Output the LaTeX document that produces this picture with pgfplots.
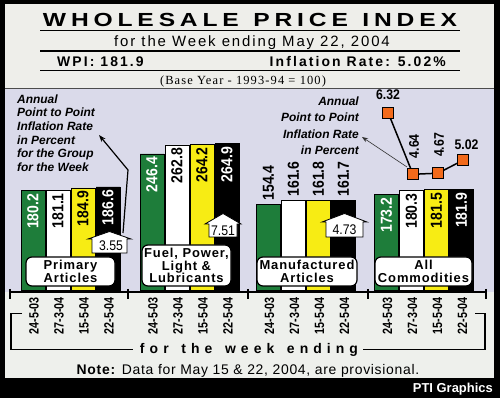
\documentclass[border=0pt]{standalone}
\usepackage{pgfplots}
\pgfplotsset{compat=1.18}
\usetikzlibrary{arrows.meta}
\usepackage{fontspec}
\setmainfont{Liberation Sans}
\newfontfamily\titlefont{Liberation Sans}[FakeStretch=1.3]
\newfontfamily\condfont{Liberation Sans}[FakeStretch=0.88]
\newfontfamily\datefont{Liberation Sans}[FakeStretch=0.8]
\newfontfamily\spacedfont{Liberation Sans}[LetterSpace=15]
\newfontfamily\subfont{Liberation Sans}[LetterSpace=12.7]
\newfontfamily\serifspaced{Liberation Serif}[LetterSpace=9]
\newfontfamily\boxfont{Liberation Sans}[LetterSpace=7]
\newfontfamily\notefont{Liberation Sans}[LetterSpace=5]
\definecolor{wgreen}{HTML}{1E7D3A}
\definecolor{wyellow}{HTML}{F7EC14}
\definecolor{lav}{HTML}{DADAEA}
\definecolor{titlebg}{HTML}{EEEEEA}
\definecolor{lowbg}{HTML}{EEF0EC}
\definecolor{sqorange}{HTML}{F26A1B}
\newcommand{\inlab}[3]{\node[rotate=90,anchor=east,inner sep=0pt,font={\condfont\bfseries\fontsize{16}{16}\selectfont},text=#3] at ([yshift=-3bp]axis cs:#1,#2) {#2};}
\newcommand{\outlab}[2]{\node[rotate=90,anchor=west,inner sep=0pt,font={\condfont\bfseries\fontsize{16}{16}\selectfont}] at ([yshift=4bp]axis cs:#1,#2) {#2};}
\newcommand{\house}[5]{\draw[fill=white, line width=0.8bp] ({#1+4},#5) -- ({#1+4},#4) -- (#1,#4) -- ({(#1+#2)/2},#3) -- (#2,#4) -- ({#2-4},#4) -- ({#2-4},#5) -- cycle;}
\begin{document}
\begin{tikzpicture}
\begin{scope}[x=1bp,y=-1bp,shift={(0,398bp)}]
\fill[black] (0,0) rectangle (500,398);
\fill[titlebg] (5,4) rectangle (494,88);
\fill[lav] (5,88) rectangle (494,292);
\fill[lowbg] (5,292) rectangle (494,378);
\draw[black!70, line width=0.8bp] (5,88) -- (494,88);
\draw[line width=1.1bp] (40,30.7)--(460,30.7);
\draw[line width=1.1bp] (40,51)--(460,51);
\draw[line width=1.1bp] (40,70.7)--(460,70.7);
\node[anchor=base, inner sep=0pt] at (250,27) {\titlefont\bfseries\fontsize{19}{19}\selectfont\makebox[414bp]{W\hfill H\hfill O\hfill L\hfill E\hfill S\hfill A\hfill L\hfill E\hspace{0pt plus 3fill}P\hfill R\hfill I\hfill C\hfill E\hspace{0pt plus 3fill}I\hfill N\hfill D\hfill E\hfill X}};
\node[anchor=base, inner sep=0pt] at (252,46.7) {\subfont\fontsize{15}{15}\selectfont for the Week ending May 22, 2004};
\node[anchor=base west, inner sep=0pt] at (57,66.7) {\spacedfont\bfseries\fontsize{14}{14}\selectfont WPI: 181.9};
\node[anchor=base east, inner sep=0pt] at (446,66.7) {\spacedfont\bfseries\fontsize{14}{14}\selectfont Inflation Rate: 5.02\%};
\node[anchor=base, inner sep=0pt] at (243,84.3) {\serifspaced\fontsize{12.5}{12.5}\selectfont (Base Year - 1993-94 = 100)};
\end{scope}

\begin{axis}[at={(0bp,108bp)}, anchor=south west, scale only axis, width=500bp, height=200bp,
  xmin=0, xmax=500, ymin=0, ymax=362.3, hide axis, clip=false]
\addplot[ybar, bar width=24, bar shift=0pt, fill=wgreen, draw=black, line width=0.7bp] coordinates {(33,180.2) (152,246.4) (268.5,154.4) (386.5,173.2)};
\addplot[ybar, bar width=24, bar shift=0pt, fill=white, draw=black, line width=0.7bp] coordinates {(58,181.1) (177,262.8) (293.5,161.6) (411.5,180.3)};
\addplot[ybar, bar width=24, bar shift=0pt, fill=wyellow, draw=black, line width=0.7bp] coordinates {(83,184.9) (202,264.2) (318.5,161.8) (436.5,181.5)};
\addplot[ybar, bar width=24, bar shift=0pt, fill=black, draw=black, line width=0.7bp] coordinates {(108,186.6) (227,264.9) (343.5,161.7) (461.5,181.9)};
\inlab{33}{180.2}{white}
\inlab{58}{181.1}{black}
\inlab{83}{184.9}{black}
\inlab{108}{186.6}{white}
\inlab{152}{246.4}{white}
\inlab{177}{262.8}{black}
\inlab{202}{264.2}{black}
\inlab{227}{264.9}{white}
\outlab{268.5}{154.4}
\outlab{293.5}{161.6}
\outlab{318.5}{161.8}
\outlab{343.5}{161.7}
\inlab{386.5}{173.2}{white}
\inlab{411.5}{180.3}{black}
\inlab{436.5}{181.5}{black}
\inlab{461.5}{181.9}{white}
\end{axis}

\begin{axis}[at={(0bp,108bp)}, anchor=south west, scale only axis, width=500bp, height=200bp,
  xmin=0, xmax=500, ymin=1.504, ymax=6.925, hide axis, clip=false]
\addplot[black, line width=1.5bp, mark=square*, mark size=5.5bp, mark options={fill=sqorange, draw=black, line width=0.6bp}] coordinates {(388,6.32) (413,4.64) (438,4.67) (463,5.02)};
\node[anchor=south, inner sep=0pt, font={\condfont\bfseries\fontsize{14}{14}\selectfont}] at ([yshift=12.5bp]axis cs:388,6.32) {6.32};
\node[rotate=90, anchor=west, inner sep=0pt, font={\condfont\bfseries\fontsize{14}{14}\selectfont}] at ([xshift=1bp,yshift=16bp]axis cs:413,4.64) {4.64};
\node[rotate=90, anchor=west, inner sep=0pt, font={\condfont\bfseries\fontsize{14}{14}\selectfont}] at ([xshift=1bp,yshift=16bp]axis cs:438,4.67) {4.67};
\node[anchor=south, inner sep=0pt, font={\condfont\bfseries\fontsize{14}{14}\selectfont}] at ([xshift=3.5bp,yshift=10bp]axis cs:463,5.02) {5.02};
\end{axis}

\begin{scope}[x=1bp,y=-1bp,shift={(0,398bp)}]
% group boxes
\draw[fill=white, line width=1.2bp, rounded corners=6bp] (26,257) rectangle (115,286);
\node[align=center, inner sep=0pt, font={\boxfont\bfseries\fontsize{13}{13.5}\selectfont}] at (70.5,271.5) {Primary\\Articles};
\draw[fill=white, line width=1.2bp, rounded corners=6bp] (142,245) rectangle (231,286);
\node[align=center, inner sep=0pt, font={\boxfont\bfseries\fontsize{13}{12.5}\selectfont}] at (186.5,265.5) {Fuel, Power,\\Light \&\\Lubricants};
\draw[fill=white, line width=1.2bp, rounded corners=6bp] (257,257) rectangle (357,286);
\node[align=center, inner sep=0pt, font={\boxfont\bfseries\fontsize{13}{13.5}\selectfont}] at (307,271.5) {Manufactured\\Articles};
\draw[fill=white, line width=1.2bp, rounded corners=6bp] (375,257) rectangle (472,286);
\node[align=center, inner sep=0pt, font={\boxfont\bfseries\fontsize{13}{13.5}\selectfont}] at (423.5,271.5) {All\\Commodities};
% inflation boxes
\house{88}{131}{231.5}{239}{253}
\node[inner sep=0pt, font={\condfont\fontsize{14}{14}\selectfont}] at (111,246) {3.55};
\house{205}{241}{213.5}{224}{237}
\node[inner sep=0pt, font={\condfont\fontsize{14}{14}\selectfont}] at (223,230.5) {7.51};
\house{322}{367}{213.5}{222}{237}
\node[inner sep=0pt, font={\condfont\fontsize{14}{14}\selectfont}] at (344.5,229.5) {4.73};
% annotations
\draw[line width=1.2bp, -{Stealth[length=7bp,width=5bp]}] (123,233) -- (128,170) -- (99,135);
\draw[line width=0.6bp, black!80, -{Stealth[length=6bp,width=4.5bp]}] (407,167) -- (362,137);
\node[anchor=north west, inner sep=0pt, align=left, font={\bfseries\itshape\fontsize{12}{13.6}\selectfont}] at (17,94.5) {Annual\\Point to Point\\Inflation Rate\\in Percent\\for the Group\\for the Week};
\node[anchor=north east, inner sep=0pt, align=right, font={\bfseries\itshape\fontsize{12}{16.4}\selectfont}] at (359,96.5) {Annual\\Point to Point\\Inflation Rate\\in Percent};
% x axis
\draw[line width=1.5bp] (10,292)--(486,292);
\foreach \x in {10,128,248,368,486} \draw[line width=1.5bp] (\x,289)--(\x,299);
\foreach \x in {34,153,269.5,387.5} {
  \node[rotate=90, anchor=east, inner sep=0pt, font={\datefont\bfseries\fontsize{13.5}{13.5}\selectfont}] at (\x,297) {24-5-03};
  \node[rotate=90, anchor=east, inner sep=0pt, font={\datefont\bfseries\fontsize{13.5}{13.5}\selectfont}] at (\x+25,297) {27-3-04};
  \node[rotate=90, anchor=east, inner sep=0pt, font={\datefont\bfseries\fontsize{13.5}{13.5}\selectfont}] at (\x+50,297) {15-5-04};
  \node[rotate=90, anchor=east, inner sep=0pt, font={\datefont\bfseries\fontsize{13.5}{13.5}\selectfont}] at (\x+75,297) {22-5-04};
}
\draw[line width=1.5bp] (22,313.3)--(11,313.3)--(11,349.5)--(133,349.5);
\draw[line width=1.5bp] (363,349.5)--(485,349.5)--(485,313.3)--(475,313.3);
\node[anchor=base, inner sep=0pt] at (249,354) {\bfseries\fontsize{14}{14}\selectfont\makebox[218bp]{f\hfill o\hfill r\hspace{0pt plus 2.5fill}t\hfill h\hfill e\hspace{0pt plus 2.5fill}w\hfill e\hfill e\hfill k\hspace{0pt plus 2.5fill}e\hfill n\hfill d\hfill i\hfill n\hfill g}};
\node[anchor=base, inner sep=0pt] at (248,374.3) {\notefont\fontsize{14}{14}\selectfont\textbf{Note:} Data for May 15 \& 22, 2004, are provisional.};
\node[anchor=base east, inner sep=0pt, text=white] at (493,393) {\bfseries\fontsize{13}{13}\selectfont PTI Graphics};
\end{scope}
\pgfresetboundingbox
\path[use as bounding box] (0,0) rectangle (500bp,398bp);
\end{tikzpicture}
\end{document}
